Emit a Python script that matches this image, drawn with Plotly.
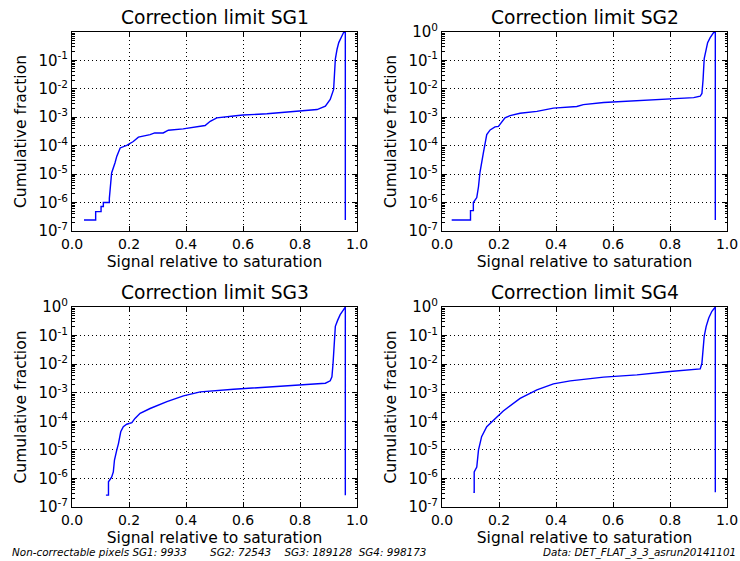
import plotly.graph_objects as go

# Cumulative fraction of pixels vs. signal relative to saturation, per gain stage
sg1_x = [0.042, 0.083, 0.083, 0.102, 0.102, 0.110, 0.110, 0.131, 0.131, 0.139, 0.151, 0.157,
         0.169, 0.192, 0.215, 0.233, 0.274, 0.290, 0.320, 0.338, 0.390, 0.450, 0.467, 0.485,
         0.508, 0.567, 0.600, 0.684, 0.800, 0.860, 0.889, 0.906, 0.918, 0.920, 0.924, 0.930,
         0.936, 0.947, 0.953, 0.958, 0.959, 0.959]
sg1_y = [2.45e-7, 2.45e-7, 4.8e-7, 4.8e-7, 7.3e-7, 7.3e-7, 1.0e-6, 1.0e-6, 1.4e-6, 1.1e-5,
         2.5e-5, 4.2e-5, 8.3e-5, 1.02e-4, 1.4e-4, 2.0e-4, 2.45e-4, 2.8e-4, 2.8e-4, 3.5e-4,
         3.9e-4, 4.7e-4, 5.1e-4, 7.2e-4, 9.5e-4, 1.1e-3, 1.2e-3, 1.32e-3, 1.6e-3, 1.86e-3,
         2.45e-3, 4.2e-3, 9.5e-3, 2.8e-2, 1.1e-1, 2.45e-1, 4.2e-1, 7.2e-1, 9.5e-1, 0.99,
         0.99, 2.45e-7]

sg2_x = [0.034, 0.100, 0.100, 0.110, 0.110, 0.122, 0.128, 0.133, 0.145, 0.151, 0.157, 0.169,
         0.186, 0.198, 0.210, 0.221, 0.239, 0.274, 0.333, 0.391, 0.473, 0.496, 0.567, 0.684,
         0.800, 0.883, 0.906, 0.912, 0.916, 0.920, 0.927, 0.932, 0.941, 0.953, 0.958, 0.959,
         0.959]
sg2_y = [2.45e-7, 2.45e-7, 5.2e-7, 5.2e-7, 1.0e-6, 1.5e-6, 3.6e-6, 1.1e-5, 5.5e-5, 1.26e-4,
         2.45e-4, 3.6e-4, 4.6e-4, 4.8e-4, 6.6e-4, 9.5e-4, 1.15e-3, 1.38e-3, 1.62e-3, 2.1e-3,
         2.4e-3, 2.8e-3, 3.3e-3, 3.9e-3, 4.6e-3, 4.9e-3, 5.5e-3, 6.9e-3, 2.1e-2, 1.15e-1,
         2.45e-1, 4.2e-1, 6.3e-1, 9.5e-1, 1.0, 1.0, 2.45e-7]

sg3_x = [0.119, 0.128, 0.128, 0.139, 0.145, 0.149, 0.157, 0.163, 0.171, 0.180, 0.192, 0.210,
         0.221, 0.239, 0.274, 0.333, 0.391, 0.450, 0.567, 0.684, 0.800, 0.889, 0.906, 0.912,
         0.916, 0.920, 0.924, 0.932, 0.941, 0.953, 0.958, 0.959, 0.959]
sg3_y = [2.6e-7, 2.6e-7, 7.6e-7, 1.1e-6, 1.7e-6, 4.4e-6, 9.8e-6, 1.66e-5, 4.3e-5, 6.5e-5,
         7.9e-5, 8.9e-5, 1.26e-4, 1.9e-4, 2.8e-4, 4.9e-4, 7.8e-4, 1.07e-3, 1.32e-3, 1.55e-3,
         1.86e-3, 2.15e-3, 2.6e-3, 3.6e-3, 1.07e-2, 5.5e-2, 2.1e-1, 3.4e-1, 5.4e-1, 8.1e-1,
         1.0, 1.0, 2.6e-7]

sg4_x = [0.110, 0.113, 0.113, 0.122, 0.128, 0.139, 0.157, 0.174, 0.215, 0.274, 0.333, 0.391,
         0.450, 0.567, 0.684, 0.800, 0.906, 0.912, 0.916, 0.920, 0.927, 0.936, 0.947, 0.955,
         0.959, 0.959]
sg4_y = [3.3e-7, 3.3e-7, 1.7e-6, 2.5e-6, 9.8e-6, 2.9e-5, 6.5e-5, 9.5e-5, 2.3e-4, 6.3e-4,
         1.26e-3, 2.05e-3, 2.6e-3, 3.5e-3, 4.2e-3, 5.5e-3, 6.8e-3, 1.07e-2, 4.2e-2, 9.3e-2,
         2.1e-1, 4.1e-1, 7.1e-1, 9.3e-1, 1.0, 3.3e-7]

series = [("SG1", sg1_x, sg1_y), ("SG2", sg2_x, sg2_y),
          ("SG3", sg3_x, sg3_y), ("SG4", sg4_x, sg4_y)]

x_ticks = [0.0, 0.2, 0.4, 0.6, 0.8, 1.0]
y_exponents = [-7, -6, -5, -4, -3, -2, -1, 0]
y_top = [-0.004, 0.0, 0.0, 0.0]   # log10 of each panel's upper y limit

nonfix = {"SG1": 9933, "SG2": 72543, "SG3": 189128, "SG4": 998173}
data_label = "DET_FLAT_3_3_asrun20141101"

W, H = 740, 561
FONT = "DejaVu Sans"

# panel boxes in pixels: (left, right, top, bottom)
boxes = [(72, 357, 32, 231), (442, 727, 32, 231),
         (72, 357, 307, 507), (442, 727, 307, 507)]

fig = go.Figure()
minor_vals = [k * 10.0 ** e for e in range(-7, 0) for k in range(2, 10)]

for i, (name, xs, ys) in enumerate(series):
    n = i + 1
    xa = "x" if n == 1 else f"x{n}"
    ya = "y" if n == 1 else f"y{n}"
    fig.add_trace(go.Scatter(x=xs, y=ys, mode="lines", xaxis=xa, yaxis=ya,
                             line=dict(color="#0000ff", width=1.4), showlegend=False))
    l, r, t, b = boxes[i]
    xdom = [l / W, r / W]
    ydom = [1 - b / H, 1 - t / H]
    axis_common = dict(showline=True, linecolor="black", linewidth=1, mirror="allticks",
                       ticks="inside", tickcolor="black", ticklen=5, automargin=False,
                       showgrid=True, gridcolor="black", gridwidth=1, griddash="1px,3px",
                       zeroline=False)
    fig.layout[f"xaxis{'' if n == 1 else n}"] = dict(
        domain=xdom, anchor=ya, range=[0, 1], tickmode="array", tickvals=x_ticks,
        ticktext=[f"{v:.1f}" for v in x_ticks],
        tickfont=dict(family=FONT, size=14, color="black"),
        title=dict(text="Signal relative to saturation", standoff=5,
                   font=dict(family=FONT, size=15.5, color="black")),
        **axis_common)
    fig.layout[f"yaxis{'' if n == 1 else n}"] = dict(
        domain=ydom, anchor=xa, type="log", range=[-7, y_top[i]], tickmode="array",
        tickvals=[10.0 ** e for e in y_exponents],
        ticktext=[f"10<sup>{e}</sup>" for e in y_exponents],
        tickfont=dict(family=FONT, size=15, color="black"),
        minor=dict(ticks="inside", ticklen=2.5, tickcolor="black", tickmode="array",
                   tickvals=minor_vals, showgrid=False),
        title=dict(text="Cumulative fraction", standoff=7,
                   font=dict(family=FONT, size=15.5, color="black")),
        **axis_common)
    fig.add_annotation(text=f"Correction limit {name}", xref="paper", yref="paper",
                       x=(l + r) / 2 / W, y=1 - (t - 2) / H, xanchor="center", yanchor="bottom",
                       showarrow=False, font=dict(family=FONT, size=18.7, color="black"))

footer = ("Non-correctable pixels "
          f"SG1: {nonfix['SG1']}&nbsp;&nbsp;&nbsp;&nbsp;&nbsp;&nbsp; SG2: {nonfix['SG2']}"
          f"&nbsp;&nbsp;&nbsp; SG3: {nonfix['SG3']}&nbsp; SG4: {nonfix['SG4']}")
fig.add_annotation(text=f"<i>{footer}</i>", xref="paper", yref="paper", x=11 / W, y=1 - 552 / H,
                   xanchor="left", yanchor="middle", showarrow=False, borderpad=0,
                   font=dict(family=FONT, size=10.4, color="black"))
fig.add_annotation(text=f"<i>Data: {data_label}</i>", xref="paper", yref="paper",
                   x=737 / W, y=1 - 552 / H, xanchor="right", yanchor="middle", showarrow=False,
                   borderpad=0, font=dict(family=FONT, size=10.4, color="black"))

fig.update_layout(width=W, height=H, margin=dict(l=0, r=0, t=0, b=0, autoexpand=False),
                  paper_bgcolor="white", plot_bgcolor="white")
fig.write_html("out.html")
